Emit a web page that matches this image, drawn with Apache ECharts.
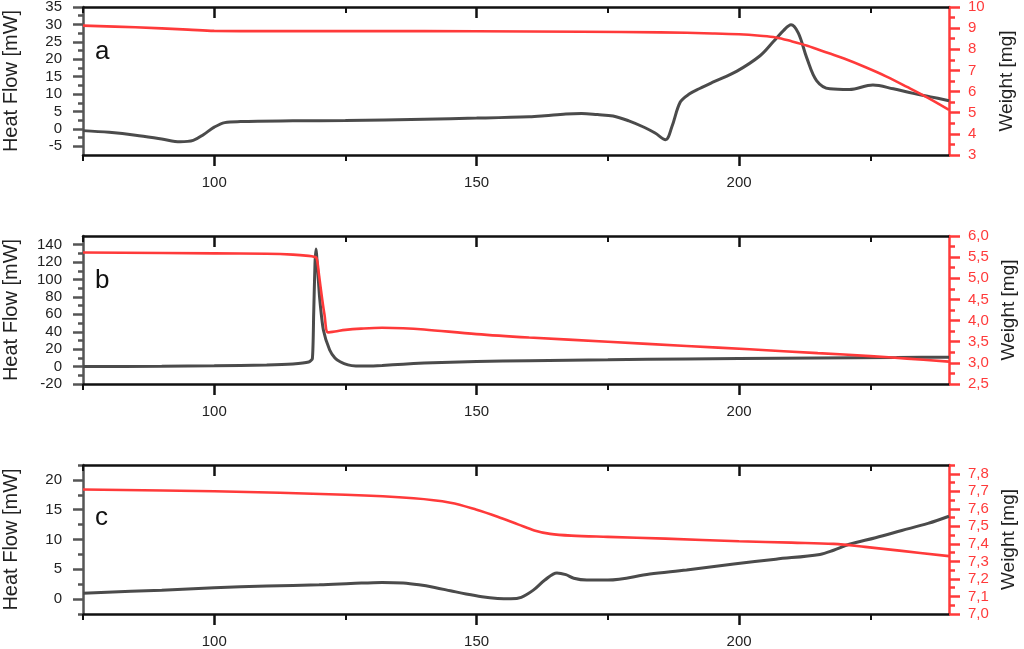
<!DOCTYPE html>
<html>
<head>
<meta charset="utf-8">
<script src="https://cdn.jsdelivr.net/npm/echarts@6/dist/echarts.min.js"></script>
<style>
html,body{margin:0;padding:0;background:#fff;}
#chart{width:1024px;height:649px;}
</style>
</head>
<body>
<div id="chart"></div>
<script>
// ---------- DATA ----------
// Panel a
const aHeatT = [75, 80, 85, 90, 93.5, 96, 98, 100, 102, 105, 115, 125, 140, 150, 160, 163, 167, 170, 173, 176, 179, 182, 184, 186, 187.2, 188.8, 190.5, 192.5, 195, 199.6, 204, 206.5, 208.5, 209.9, 211.3, 212.9, 214.8, 217.3, 221, 225.5, 229.4, 233.2, 236.5, 240];
const aHeat  = [-0.5, -1.0, -1.8, -2.9, -3.7, -3.3, -1.6, 0.5, 1.8, 2.1, 2.3, 2.4, 2.8, 3.1, 3.5, 3.8, 4.3, 4.4, 4.1, 3.7, 2.3, 0.4, -1.2, -3.1, 0.6, 7.7, 10.0, 11.6, 13.4, 16.6, 21.0, 25.0, 28.3, 29.9, 27.5, 20.4, 13.8, 11.5, 11.3, 12.6, 11.5, 10.2, 9.2, 8.1];
const aWeightT = [75, 85, 95, 100, 110, 130, 150, 170, 185, 195, 200, 204, 207, 210, 213, 217, 220, 224, 228, 232, 236, 240];
const aWeight  = [9.12, 9.04, 8.93, 8.87, 8.86, 8.86, 8.85, 8.83, 8.80, 8.75, 8.71, 8.64, 8.56, 8.38, 8.17, 7.82, 7.56, 7.16, 6.72, 6.22, 5.70, 5.13];
// Panel b
const bHeatT = [75, 90, 100, 110, 115, 118, 118.7, 118.95, 119.2, 119.4, 119.7, 120.1, 120.8, 122, 123, 124, 125.5, 127, 129, 132, 136, 140, 150, 160, 175, 190, 200, 215, 230, 240];
const bHeat  = [0, 0.4, 0.9, 1.8, 3.0, 5.2, 9.0, 60, 118, 135, 112, 78, 42, 19, 10, 5.6, 2.0, 0.7, 0.6, 1.2, 2.8, 4.0, 5.8, 6.8, 7.8, 8.8, 9.4, 10.0, 10.4, 10.8];
const bWeightT = [75, 100, 110, 115, 118, 119, 119.5, 120, 120.5, 121, 121.7, 123, 125, 128, 132, 136, 140, 150, 160, 175, 190, 202, 215, 225, 232, 240];
const bWeight  = [5.61, 5.59, 5.58, 5.56, 5.53, 5.51, 5.48, 5.05, 4.57, 4.15, 3.72, 3.74, 3.78, 3.81, 3.83, 3.82, 3.79, 3.68, 3.60, 3.50, 3.40, 3.32, 3.23, 3.16, 3.10, 3.03];
// Panel c
const cHeatT = [75, 90, 100, 110, 120, 126, 132, 136, 139, 142, 145, 148, 151, 154, 156.5, 158.5, 160.8, 163, 165.3, 167, 168.5, 171, 175, 183, 190, 199, 207, 215.4, 218, 221, 226, 231, 236, 240];
const cHeat  = [1.0, 1.5, 1.9, 2.2, 2.4, 2.6, 2.8, 2.7, 2.4, 1.95, 1.4, 0.85, 0.4, 0.12, 0.05, 0.3, 1.5, 3.2, 4.4, 4.1, 3.5, 3.2, 3.2, 4.2, 4.9, 5.9, 6.7, 7.5, 8.2, 9.2, 10.3, 11.5, 12.7, 13.9];
const cWeightT = [75, 100, 125, 138, 145, 150, 154, 158, 161, 164, 168, 175, 186, 200, 210, 218, 224, 231, 240];
const cWeight  = [7.71, 7.70, 7.68, 7.66, 7.635, 7.595, 7.555, 7.51, 7.477, 7.457, 7.447, 7.44, 7.43, 7.415, 7.407, 7.40, 7.383, 7.36, 7.33];

// Tick values
const xMajor = [100, 150, 200];
const xMinor = [75, 125, 175, 225];
const aLeftMajor = [-5, 0, 5, 10, 15, 20, 25, 30, 35];
const aLeftMinor = [-2.5, 2.5, 7.5, 12.5, 17.5, 22.5, 27.5, 32.5];
const aRightMajor = [3, 4, 5, 6, 7, 8, 9, 10];
const aRightMinor = [3.5, 4.5, 5.5, 6.5, 7.5, 8.5, 9.5];
const bLeftMajor = [-20, 0, 20, 40, 60, 80, 100, 120, 140];
const bLeftMinor = [-10, 10, 30, 50, 70, 90, 110, 130];
const bRightMajor = [2.5, 3.0, 3.5, 4.0, 4.5, 5.0, 5.5, 6.0];
const bRightMinor = [2.75, 3.25, 3.75, 4.25, 4.75, 5.25, 5.75];
const cLeftMajor = [0, 5, 10, 15, 20];
const cLeftMinor = [-2.5, 2.5, 7.5, 12.5, 17.5, 22.5];
const cRightMajor = [7.0, 7.1, 7.2, 7.3, 7.4, 7.5, 7.6, 7.7, 7.8];
const cRightMinor = [7.05, 7.15, 7.25, 7.35, 7.45, 7.55, 7.65, 7.75, 7.85];

const panelLetters = ['a', 'b', 'c'];
const leftTitle = 'Heat Flow [mW]';
const rightTitle = 'Weight [mg]';

// ---------- BUILD ----------
const FONT = "'Liberation Sans', Arial, sans-serif";
const GRAY = '#4b4b4b';
const RED = '#ff3a3a';
const zip = (xs, ys) => xs.map((x, i) => [x, ys[i]]);

const panels = [
  { top: 7, height: 148, left: [-7.5, 35], right: [3, 10],
    lMaj: aLeftMajor, lMin: aLeftMinor, rMaj: aRightMajor, rMin: aRightMinor,
    rFmt: v => String(Math.round(v)),
    heat: zip(aHeatT, aHeat), weight: zip(aWeightT, aWeight), smoothH: 0.35 },
  { top: 236, height: 148, left: [-20, 150], right: [2.5, 6.0],
    lMaj: bLeftMajor, lMin: bLeftMinor, rMaj: bRightMajor, rMin: bRightMinor,
    rFmt: v => v.toFixed(1).replace('.', ','),
    heat: zip(bHeatT, bHeat), weight: zip(bWeightT, bWeight), smoothH: 0.2 },
  { top: 465, height: 149, left: [-2.5, 22.5], right: [7.0, 7.85],
    lMaj: cLeftMajor, lMin: cLeftMinor, rMaj: cRightMajor, rMin: cRightMinor,
    rFmt: v => v.toFixed(1).replace('.', ','),
    heat: zip(cHeatT, cHeat), weight: zip(cWeightT, cWeight), smoothH: 0.35 }
];

const grid = [], xAxis = [], yAxis = [], series = [], graphic = [];

panels.forEach((p, i) => {
  grid.push({ left: 83, right: 75, top: p.top, height: p.height, containLabel: false, outerBoundsMode: 'none' });
  const xBase = { gridIndex: i, type: 'value', min: 75, max: 240, splitLine: { show: false } };
  // bottom major
  xAxis.push(Object.assign({}, xBase, {
    position: 'bottom',
    axisLine: { show: true, onZero: false, lineStyle: { color: '#111', width: 2.5 } },
    axisTick: { show: true, inside: false, length: 11, customValues: xMajor, lineStyle: { color: '#111', width: 2.5 } },
    axisLabel: { show: true, customValues: xMajor, margin: 20, fontSize: 15, color: '#222', fontFamily: FONT }
  }));
  // bottom minor
  xAxis.push(Object.assign({}, xBase, {
    position: 'bottom',
    axisLine: { show: false, onZero: false },
    axisTick: { show: true, inside: false, length: 6, customValues: xMinor, lineStyle: { color: '#111', width: 2 } },
    axisLabel: { show: false }
  }));
  // top major
  xAxis.push(Object.assign({}, xBase, {
    position: 'top',
    axisLine: { show: true, onZero: false, lineStyle: { color: '#111', width: 2.5 } },
    axisTick: { show: true, inside: true, length: 11, customValues: xMajor, lineStyle: { color: '#111', width: 2.5 } },
    axisLabel: { show: false }
  }));
  // top minor
  xAxis.push(Object.assign({}, xBase, {
    position: 'top',
    axisLine: { show: false, onZero: false },
    axisTick: { show: true, inside: true, length: 6, customValues: xMinor, lineStyle: { color: '#111', width: 2 } },
    axisLabel: { show: false }
  }));

  const yL = { gridIndex: i, type: 'value', min: p.left[0], max: p.left[1], position: 'left', splitLine: { show: false } };
  const yR = { gridIndex: i, type: 'value', min: p.right[0], max: p.right[1], position: 'right', splitLine: { show: false } };
  // left major
  yAxis.push(Object.assign({}, yL, {
    name: leftTitle, nameLocation: 'middle', nameGap: 62,
    nameTextStyle: { fontSize: 20, color: '#222', fontFamily: FONT },
    axisLine: { show: true, onZero: false, lineStyle: { color: '#555', width: 2.5 } },
    axisTick: { show: true, inside: false, length: 10, customValues: p.lMaj, lineStyle: { color: '#555', width: 2.5 } },
    axisLabel: { show: true, customValues: p.lMaj, margin: 21, fontSize: 15, color: '#222', fontFamily: FONT }
  }));
  // left minor
  yAxis.push(Object.assign({}, yL, {
    axisLine: { show: false, onZero: false },
    axisTick: { show: true, inside: false, length: 5, customValues: p.lMin, lineStyle: { color: '#555', width: 2.5 } },
    axisLabel: { show: false }
  }));
  // right major
  yAxis.push(Object.assign({}, yR, {
    name: rightTitle, nameLocation: 'middle', nameGap: 48,
    nameTextStyle: { fontSize: 19, color: '#222', fontFamily: FONT },
    axisLine: { show: true, onZero: false, lineStyle: { color: RED, width: 2.5 } },
    axisTick: { show: true, inside: false, length: 11, customValues: p.rMaj, lineStyle: { color: RED, width: 2.5 } },
    axisLabel: { show: true, customValues: p.rMaj, margin: 19, fontSize: 15, color: RED, fontFamily: FONT, formatter: p.rFmt }
  }));
  // right minor
  yAxis.push(Object.assign({}, yR, {
    axisLine: { show: false, onZero: false },
    axisTick: { show: true, inside: false, length: 6, customValues: p.rMin, lineStyle: { color: RED, width: 2.5 } },
    axisLabel: { show: false }
  }));

  series.push({
    type: 'line', xAxisIndex: 4 * i, yAxisIndex: 4 * i + 2, data: p.weight,
    showSymbol: false, smooth: 0.35, lineStyle: { color: RED, width: 2.6 }, z: 3, animation: false
  });
  series.push({
    type: 'line', xAxisIndex: 4 * i, yAxisIndex: 4 * i, data: p.heat,
    showSymbol: false, smooth: p.smoothH, lineStyle: { color: GRAY, width: 3 }, z: 2, animation: false
  });
});

const letterPos = [{ x: 95, y: 52 }, { x: 95, y: 281 }, { x: 95, y: 518 }];
panelLetters.forEach((t, i) => {
  graphic.push({
    type: 'text', x: letterPos[i].x, y: letterPos[i].y, z: 10,
    style: { text: t, fontSize: 26, fill: '#111', fontFamily: FONT, verticalAlign: 'middle', align: 'left' }
  });
});

const chart = echarts.init(document.getElementById('chart'), null, { renderer: 'canvas' });
chart.setOption({
  animation: false,
  backgroundColor: '#fff',
  grid, xAxis, yAxis, series, graphic
});
</script>
</body>
</html>
